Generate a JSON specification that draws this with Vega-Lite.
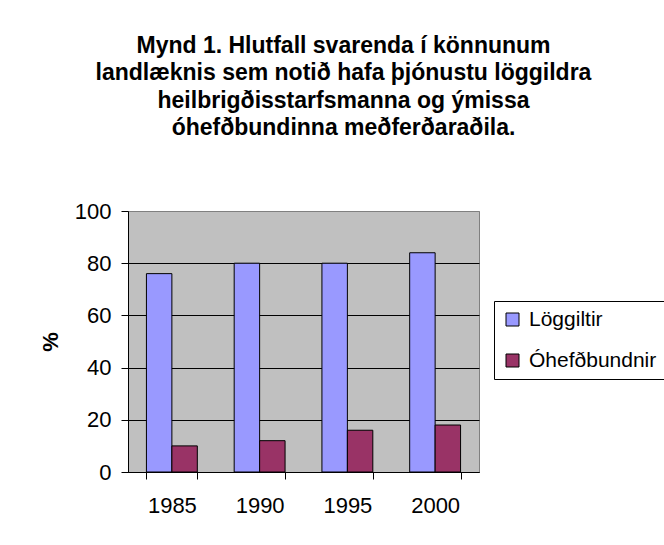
{
  "$schema": "https://vega.github.io/schema/vega-lite/v6.json",
  "width": 351,
  "height": 261,
  "autosize": {"type": "none"},
  "padding": {"left": 128, "top": 211, "right": 185, "bottom": 73},
  "background": "white",
  "title": {
    "text": ["Mynd 1.  Hlutfall svarenda í könnunum", "landlæknis sem notið hafa þjónustu löggildra", "heilbrigðisstarfsmanna og ýmissa", "óhefðbundinna meðferðaraðila."],
    "anchor": "middle",
    "frame": "group",
    "dx": 40,
    "offset": 60,
    "font": "Liberation Sans",
    "fontSize": 23,
    "fontWeight": "bold",
    "lineHeight": 27.5,
    "color": "black"
  },
  "data": {
    "values": [
      {"year": "1985", "group": "Löggiltir", "value": 76},
      {"year": "1985", "group": "Óhefðbundnir", "value": 10},
      {"year": "1990", "group": "Löggiltir", "value": 80},
      {"year": "1990", "group": "Óhefðbundnir", "value": 12},
      {"year": "1995", "group": "Löggiltir", "value": 80},
      {"year": "1995", "group": "Óhefðbundnir", "value": 16},
      {"year": "2000", "group": "Löggiltir", "value": 84},
      {"year": "2000", "group": "Óhefðbundnir", "value": 18}
    ]
  },
  "mark": {"type": "bar", "stroke": "black", "strokeWidth": 1},
  "encoding": {
    "x": {
      "field": "year",
      "type": "nominal",
      "scale": {"paddingInner": 0.42, "paddingOuter": 0.21},
      "axis": {
        "title": null,
        "labelAngle": 0,
        "tickBand": "extent",
        "tickSize": 7,
        "tickColor": "black",
        "domainColor": "black",
        "labelPadding": 16,
        "labelFont": "Liberation Sans",
        "labelFontSize": 22,
        "labelColor": "black"
      }
    },
    "xOffset": {
      "field": "group",
      "type": "nominal",
      "scale": {"paddingInner": 0, "paddingOuter": 0}
    },
    "y": {
      "field": "value",
      "type": "quantitative",
      "scale": {"domain": [0, 100], "nice": false},
      "axis": {
        "title": "%",
        "titleFont": "Liberation Sans",
        "titleFontSize": 22,
        "titleFontWeight": "bold",
        "titleColor": "black",
        "titlePadding": 12,
        "values": [0, 20, 40, 60, 80, 100],
        "tickSize": 7,
        "tickColor": "black",
        "domainColor": "black",
        "labelPadding": 10,
        "labelFont": "Liberation Sans",
        "labelFontSize": 22,
        "labelColor": "black",
        "grid": true,
        "gridColor": {"condition": {"test": "datum.value === 100", "value": "#808080"}, "value": "black"},
        "gridOpacity": 1
      }
    },
    "color": {
      "field": "group",
      "type": "nominal",
      "scale": {"domain": ["Löggiltir", "Óhefðbundnir"], "range": ["#9999FF", "#993366"]},
      "legend": {
        "title": null,
        "orient": "none",
        "legendX": 366,
        "legendY": 90,
        "strokeColor": "black",
        "padding": 8,
        "symbolType": "square",
        "symbolSize": 169,
        "symbolStrokeColor": "black",
        "symbolStrokeWidth": 1,
        "symbolOpacity": 1,
        "labelFont": "Liberation Sans",
        "labelFontSize": 21,
        "labelColor": "black",
        "labelOffset": 6,
        "rowPadding": 19
      }
    }
  },
  "config": {
    "view": {"fill": "#C0C0C0", "stroke": "#808080", "strokeWidth": 1}
  }
}
